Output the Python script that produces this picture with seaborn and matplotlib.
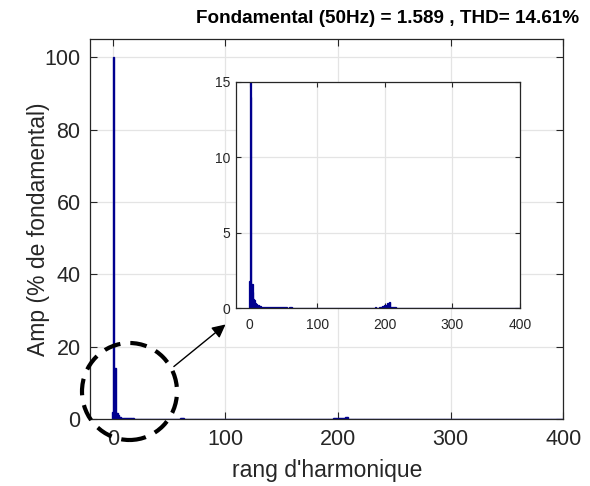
import numpy as np
import pandas as pd
import matplotlib
matplotlib.use("Agg")
import matplotlib.pyplot as plt
import seaborn as sns
from matplotlib.patches import Ellipse, FancyArrowPatch

# Harmonic spectrum (% of fundamental), non-zero orders only
low_orders = list(range(0, 66))
low_amps = [1.8, 100.0, 14.0, 1.6, 1.6, 1.1, 0.6, 0.55, 0.38, 0.35,
            0.3, 0.29, 0.18, 0.2, 0.22, 0.15, 0.14, 0.12, 0.12, 0.1,
            0.11, 0.1, 0.1, 0.09, 0.1, 0.1, 0.09, 0.1, 0.1, 0.1,
            0.09, 0.1, 0.1, 0.09, 0.1, 0.1, 0.1, 0.09, 0.1, 0.1,
            0.09, 0.1, 0.09, 0.1, 0.09, 0.1, 0.09, 0.1, 0.09, 0.1,
            0.09, 0.1, 0.09, 0.09, 0.1, 0.09, 0.05, 0.04, 0.05, 0.1,
            0.12, 0.12, 0.12, 0.12, 0.05, 0.04]
high_orders = [186, 187, 188, 192, 193, 194, 195, 196, 197, 198, 199,
               200, 201, 202, 203, 204, 205, 206, 207, 208,
               209, 210, 211, 212, 213, 214, 215, 216, 217]
high_amps = [0.09, 0.09, 0.05, 0.09, 0.09, 0.09, 0.09, 0.18, 0.18, 0.18, 0.18,
             0.22, 0.22, 0.22, 0.22, 0.35, 0.35, 0.35, 0.44, 0.44,
             0.11, 0.11, 0.11, 0.11, 0.09, 0.09, 0.09, 0.09, 0.09]
max_order = 400

title_text = "Fondamental (50Hz) = 1.589 , THD= 14.61%"
x_label = "rang d'harmonique"
y_label = "Amp (% de fondamental)"
main_xticks = [0, 100, 200, 300, 400]
main_yticks = [0, 20, 40, 60, 80, 100]
inset_yticks = [0, 5, 10, 15]

rang = np.arange(0, max_order + 1)
amp = np.zeros(rang.size)
amp[low_orders] = low_amps
amp[high_orders] = high_amps
df = pd.DataFrame({"rang": rang, "amp": amp})

sns.set_theme(style="whitegrid")
plt.rcParams["font.family"] = ["Liberation Sans", "DejaVu Sans"]

BAR = "#00008F"
INK = "#262626"
GRID = "#e4e4e4"

fig = plt.figure(figsize=(5.9, 4.86), dpi=100)
ax = fig.add_axes([0.153, 0.138, 0.802, 0.781])
axin = fig.add_axes([0.400, 0.3656, 0.481, 0.466])

for a, lw in ((ax, 1.0), (axin, 0.9)):
    sns.histplot(data=df, x="rang", weights="amp", discrete=True,
                 color=BAR, edgecolor=BAR, linewidth=lw, alpha=1, ax=a)
    a.set_facecolor("white")
    a.grid(True, color=GRID, linewidth=0.9)
    a.set_axisbelow(True)
    for sp in a.spines.values():
        sp.set_color(INK)
        sp.set_linewidth(0.9)
        sp.set_visible(True)
    a.set_xlim(-20, 400)
    a.set_xticks(main_xticks)

# main axes
ax.set_ylim(0, 105)
ax.set_yticks(main_yticks)
ax.tick_params(direction="in", length=5, width=0.8, color=INK,
               bottom=True, left=True, top=True, right=True,
               labelsize=15.5, labelcolor=INK, pad=7)
ax.set_xlabel(x_label, fontsize=16.5, color=INK, labelpad=7)
ax.set_ylabel(y_label, fontsize=16.5, color=INK, labelpad=-4)

# zoomed inset
axin.set_ylim(0, 15)
axin.set_yticks(inset_yticks)
axin.set_xlabel("")
axin.set_ylabel("")
axin.tick_params(direction="in", length=3.5, width=0.8, color=INK,
                 bottom=True, left=True, top=True, right=True,
                 labelsize=10, labelcolor=INK, pad=4)
axin.tick_params(axis="x", pad=7)

fig.text(388 / 590, 0.962, title_text, ha="center", va="center",
         fontsize=13.6, fontweight="bold", color="black")

# dashed circle around the low orders and pointer to the inset
circle = Ellipse((129.5 / 590, 1 - 391.5 / 486), 95 / 590, 97 / 486,
                 transform=fig.transFigure, fill=False, edgecolor="black",
                 linewidth=3, linestyle=(0, (4, 2.4)), zorder=5)
fig.add_artist(circle)
arrow = FancyArrowPatch((171.7 / 590, 1 - 368.3 / 486),
                        (227.7 / 590, 1 - 322.7 / 486),
                        transform=fig.transFigure, arrowstyle="-|>",
                        mutation_scale=20, linewidth=1, color="black",
                        zorder=5)
fig.add_artist(arrow)

fig.savefig("out.png", dpi=100)
